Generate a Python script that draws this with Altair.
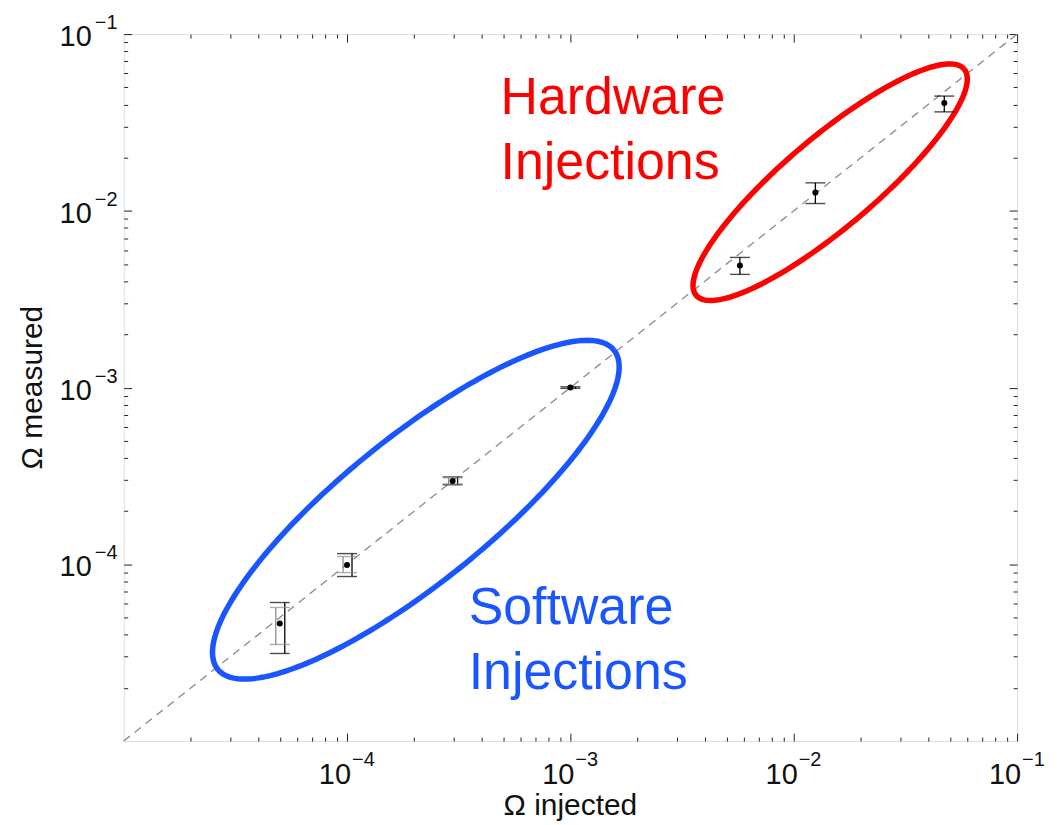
import altair as alt
import numpy as np
import pandas as pd

W, H = 896, 709
FONT = "Liberation Sans"
DOM = [1e-5, 1e-1]

# ---- data ----
inj_x = [5.0e-5, 1.0e-4, 2.97e-4, 1.0e-3, 5.74e-3, 1.25e-2, 4.72e-2]
meas_y = [4.63e-5, 9.9e-5, 2.96e-4, 1.0e-3, 4.91e-3, 1.27e-2, 4.08e-2]
err_lo = [3.13e-5, 8.53e-5, 2.82e-4, 0.99e-3, 4.37e-3, 1.10e-2, 3.63e-2]
err_hi = [6.08e-5, 1.15e-4, 3.12e-4, 1.01e-3, 5.45e-3, 1.44e-2, 4.46e-2]
group = ["sw", "sw", "sw", "sw", "hw", "hw", "hw"]
gray_x = [5.0e-5, 1.0e-4, 2.97e-4]
gray_lo = [3.52e-5, 8.98e-5, 2.85e-4]
gray_hi = [5.70e-5, 1.107e-4, 3.09e-4]

major_vals = [1e-4, 1e-3, 1e-2, 1e-1]
major_exp = ["\u22124", "\u22123", "\u22122", "\u22121"]
minor_vals = [k * 10.0 ** d for d in range(-5, -1) for k in range(2, 10)]

# ellipse annotations in log10 space: centre, semi-axis vectors
blue_c, blue_a, blue_b = (-3.692, -3.691), (0.887, 0.903), (0.205, -0.321)
red_c, red_a, red_b = (-1.837, -1.838), (0.600, 0.640), (0.130, -0.196)

ann_text = [
    ("Hardware", 378, 80, "#ff0000"),
    ("Injections", 378, 145, "#ff0000"),
    ("Software", 346, 592, "#1a56ff"),
    ("Injections", 346, 657, "#1a56ff"),
]

# ---- tables ----
pts = pd.DataFrame({"x": inj_x, "y": meas_y, "lo": err_lo, "hi": err_hi, "g": group})
gray = pd.DataFrame({"x": gray_x, "lo": gray_lo, "hi": gray_hi})
diag = pd.DataFrame({"x": DOM, "y": DOM})


def ellipse(c, a, b, n=240):
    t = np.linspace(0, 2 * np.pi, n)
    lx = c[0] + a[0] * np.cos(t) + b[0] * np.sin(t)
    ly = c[1] + a[1] * np.cos(t) + b[1] * np.sin(t)
    return pd.DataFrame({"x": 10 ** lx, "y": 10 ** ly, "i": np.arange(n)})


blue_df = ellipse(blue_c, blue_a, blue_b)
red_df = ellipse(red_c, red_a, red_b)
lab = pd.DataFrame({"v": major_vals, "e": major_exp})


def sc():
    return alt.Scale(type="log", domain=DOM, nice=False, zero=False)


def ax(orient, vals, size, off):
    return alt.Axis(orient=orient, offset=off, values=vals, tickSize=size,
                    labels=False, domain=False, grid=False, title=None,
                    ticks=True, tickColor="#222222", tickWidth=1)


def X(field="x", axis=None):
    return alt.X(f"{field}:Q", scale=sc(), axis=axis)


def Y(field="y", axis=None):
    return alt.Y(f"{field}:Q", scale=sc(), axis=axis)


# diagonal dashed line (carries inner major ticks at bottom/left)
l_diag = alt.Chart(diag).mark_line(color="#8a8a8a", strokeWidth=1.3, strokeDash=[8, 6]).encode(
    x=X(axis=ax("top", major_vals, 8, -H)),
    y=Y(axis=ax("right", major_vals, 8, -W)),
)
# ellipses (carry other tick sets)
l_blue = alt.Chart(blue_df).mark_line(color="#1a56ff", strokeWidth=5.5).encode(
    x=X(axis=ax("top", minor_vals, 4, -H)),
    y=Y(axis=ax("right", minor_vals, 4, -W)),
    order="i:Q",
)
l_red = alt.Chart(red_df).mark_line(color="#ff0000", strokeWidth=5.5).encode(
    x=X(axis=ax("bottom", major_vals, 8, -H)),
    y=Y(axis=ax("left", major_vals, 8, -W)),
    order="i:Q",
)
# black error bars
l_rule_sw = alt.Chart(pts).transform_filter("datum.g == 'sw'").mark_rule(
    color="black", strokeWidth=1.3, xOffset=5).encode(
    x=X(axis=ax("bottom", minor_vals, 4, -H)),
    y=Y("lo", axis=ax("left", minor_vals, 4, -W)),
    y2="hi:Q",
)
l_rule_hw = alt.Chart(pts).transform_filter("datum.g == 'hw'").mark_rule(
    color="black", strokeWidth=1.3).encode(x=X(), y=Y("lo"), y2="hi:Q")
l_gray = alt.Chart(gray).mark_rule(color="#8c8c8c", strokeWidth=1.3, xOffset=-4).encode(
    x=X(), y=Y("lo"), y2="hi:Q")
cap = dict(orient="horizontal", size=20, thickness=1.4)
l_cap_lo = alt.Chart(pts).mark_tick(color="black", **cap).encode(x=X(), y=Y("lo"))
l_cap_hi = alt.Chart(pts).mark_tick(color="black", **cap).encode(x=X(), y=Y("hi"))
l_gcap_lo = alt.Chart(gray).mark_tick(color="#8c8c8c", **cap).encode(x=X(), y=Y("lo"))
l_gcap_hi = alt.Chart(gray).mark_tick(color="#8c8c8c", **cap).encode(x=X(), y=Y("hi"))
l_dots = alt.Chart(pts).mark_circle(color="black", size=36, opacity=1).encode(x=X(), y=Y())

# tick labels  10^-n
TXT = dict(font=FONT, color="#111111", baseline="alphabetic")
xl = alt.Chart(lab)
l_x10 = xl.mark_text(fontSize=29, align="right", dx=4, **TXT).encode(
    x=X("v"), y=alt.value(H + 43), text=alt.value("10"))
l_xe = xl.mark_text(fontSize=20, align="left", dx=5, **TXT).encode(
    x=X("v"), y=alt.value(H + 25), text="e:N")
yl = alt.Chart(lab)
l_y10 = yl.mark_text(fontSize=29, align="right", dy=12, **TXT).encode(
    x=alt.value(-32), y=Y("v"), text=alt.value("10"))
l_ye = yl.mark_text(fontSize=20, align="left", dy=-5, **TXT).encode(
    x=alt.value(-29), y=Y("v"), text="e:N")

# axis titles
one = pd.DataFrame({"k": [0]})
l_xt = alt.Chart(one).mark_text(fontSize=30, align="center", **TXT).encode(
    x=alt.value(W / 2), y=alt.value(H + 74), text=alt.value("\u03a9 injected"))
l_yt = alt.Chart(one).mark_text(fontSize=30, align="center", angle=270, **TXT).encode(
    x=alt.value(-82), y=alt.value(H / 2), text=alt.value("\u03a9 measured"))

# annotations
ann = pd.DataFrame(ann_text, columns=["t", "px", "py", "c"])
l_ann = alt.Chart(ann).mark_text(font=FONT, fontSize=52, align="left", baseline="alphabetic").encode(
    x=alt.X("px:Q", scale=None, axis=None),
    y=alt.Y("py:Q", scale=None, axis=None),
    text="t:N",
    color=alt.Color("c:N", scale=None, legend=None),
)

chart = alt.layer(
    l_diag, l_blue, l_red, l_rule_sw,
    l_rule_hw, l_gray, l_cap_lo, l_cap_hi, l_gcap_lo, l_gcap_hi, l_dots,
    l_x10, l_xe, l_y10, l_ye, l_xt, l_yt, l_ann,
).resolve_axis(x="independent", y="independent").properties(
    width=W, height=H,
    autosize=alt.AutoSizeParams(type="none"),
    padding={"left": 116, "top": 25, "right": 36, "bottom": 82},
).configure_view(stroke="#222222", strokeWidth=1.2).configure(background="white")

chart.save("out.html", embed_options={"renderer": "svg", "actions": False})
